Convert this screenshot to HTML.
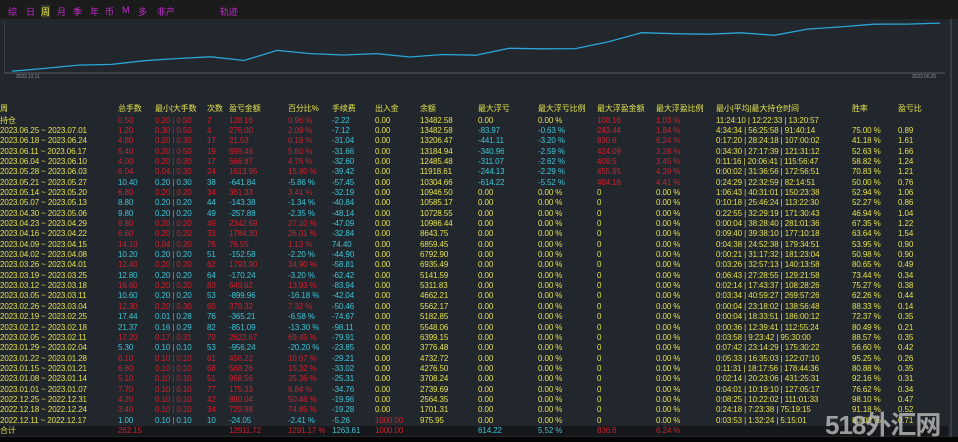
<!DOCTYPE html>
<html><head><meta charset="utf-8">
<style>
*{margin:0;padding:0;box-sizing:border-box}
body{width:958px;height:442px;background:#22262d;overflow:hidden;position:relative;font-family:"Liberation Sans","Noto Sans CJK SC",sans-serif;font-size:8px;letter-spacing:-0.1px;color:#e2e24a}
#topbar{position:absolute;left:0;top:0;width:958px;height:19px;background:#1b1b1c}
.menu{position:absolute;top:5px;color:#c02cc8;font-size:9px}
#chart{position:absolute;left:0;top:19px;width:948px;height:62px}
.row{position:absolute;left:0;width:948px;height:10.35px;line-height:10.35px;white-space:nowrap}
.row span{position:absolute;top:0}
.r{color:#d0202c}.c{color:#3cc6d6}.y{color:#e2e24a}
#total{background:#15171a}
#rb{position:absolute;left:950px;top:19px;width:2px;height:418px;background:#3a3f47}
#bottom{position:absolute;left:0;top:437px;width:958px;height:5px;background:#050505}
.wm{position:absolute;left:825px;top:405px;font-size:26px;font-weight:bold;color:rgba(200,200,200,0.75);letter-spacing:-1px}
</style></head><body>
<div id="topbar">
<span class="menu" style="left:8px">综</span>
<span class="menu" style="left:26px">日</span>
<span class="menu" style="left:41px;color:#e2e24a;background:#3a3a2a">周</span>
<span class="menu" style="left:57px">月</span>
<span class="menu" style="left:73px">季</span>
<span class="menu" style="left:90px">年</span>
<span class="menu" style="left:105px">币</span>
<span class="menu" style="left:122px">M</span>
<span class="menu" style="left:138px">多</span>
<span class="menu" style="left:157px">非产</span>
<span class="menu" style="left:220px">轨迹</span>
</div>
<svg id="chart" width="948" height="62">
<line x1="4" y1="54" x2="945" y2="54" stroke="#5a5f66" stroke-width="1"/>
<line x1="4.5" y1="2" x2="4.5" y2="54" stroke="#3a3f47" stroke-width="1"/>
<text x="16" y="59" font-size="5" fill="#8a8f96" font-family="Liberation Sans">2022.12.11</text>
<text x="912" y="59" font-size="5" fill="#8a8f96" font-family="Liberation Sans">2023.06.25</text>
<polyline id="eq" fill="none" stroke="#2aa6d8" stroke-width="1.3"/>
</svg>
<div id="rb"></div>
<div id="table"></div>
<div id="bottom"></div>
<div class="wm">518外汇网</div>
<script>
// chart data: weekly closing balance, oldest first
const weeks = ["12.11","12.18","12.25","01.01","01.08","01.15","01.22","01.29","02.05","02.12","02.19","02.26","03.05","03.12","03.19","03.26","04.02","04.09","04.16","04.23","04.30","05.07","05.14","05.21","05.28","06.04","06.11","06.18","06.25"];
const balances = [975.95,1701.31,2564.35,2739.69,3708.24,4276.50,4732.72,3776.48,6399.15,5548.06,5182.85,5562.17,4662.21,5311.83,5141.59,6935.49,6792.90,6859.45,8643.75,10986.44,10728.55,10585.17,10946.50,10304.66,11918.61,12485.48,13184.94,13206.47,13482.58];
const xScale = i => 12 + i * (928 / (weeks.length - 1));
const yScale = v => 54 - (v / 13500) * 52 + 2;
const pl = document.getElementById('eq');
pl.setAttribute('points', balances.map((v,i)=>xScale(i).toFixed(1)+','+yScale(v).toFixed(1)).join(' '));



const colX = [0,118,155,207,229,288,332,375,420,478,538,597,656,716,852,898];
const headers = ["周","总手数","最小|大手数","次数","盈亏金额","百分比%","手续费","出入金","余额","最大浮亏","最大浮亏比例","最大浮盈金额","最大浮盈比例","最小|平均|最大持仓时间","胜率","盈亏比"];
const rows = [
["持仓","r","0.50","0.20 | 0.50","2","128.16","0.96 %","-2.22","0.00","13482.58","0.00","0.00 %","108.16","1.03 %","11:24:10 | 12:22:33 | 13:20:57","",""],
["2023.06.25 ~ 2023.07.01","r","1.20","0.30 | 0.50","4","276.00","2.09 %","-7.12","0.00","13482.58","-83.97","-0.63 %","243.44","1.84 %","4:34:34 | 56:25:58 | 91:40:14","75.00 %","0.89"],
["2023.06.18 ~ 2023.06.24","r","4.80","0.20 | 0.30","17","21.53","0.16 %","-31.04","0.00","13206.47","-441.11","-3.20 %","830.6","6.24 %","0:17:20 | 28:24:18 | 107:00:02","41.18 %","1.61"],
["2023.06.11 ~ 2023.06.17","r","5.40","0.20 | 0.50","19","699.46","5.60 %","-31.66","0.00","13184.94","-340.96","-2.59 %","424.09","3.28 %","0:34:30 | 27:17:39 | 121:31:12","52.63 %","1.66"],
["2023.06.04 ~ 2023.06.10","r","4.00","0.20 | 0.30","17","566.87","4.76 %","-32.60","0.00","12485.48","-311.07","-2.62 %","409.5","3.45 %","0:11:16 | 20:06:41 | 115:56:47","58.82 %","1.24"],
["2023.05.28 ~ 2023.06.03","r","6.04","0.04 | 0.30","24","1613.95","15.80 %","-39.42","0.00","11918.61","-244.13","-2.29 %","455.95","4.29 %","0:00:02 | 31:36:56 | 172:56:51","70.83 %","1.21"],
["2023.05.21 ~ 2023.05.27","c","10.40","0.20 | 0.30","38","-641.84","-5.86 %","-57.45","0.00","10304.66","-614.22","-5.52 %","484.16","4.41 %","0:24:29 | 22:32:59 | 82:14:51","50.00 %","0.76"],
["2023.05.14 ~ 2023.05.20","r","6.80","0.20 | 0.20","34","361.33","3.41 %","-32.19","0.00","10946.50","0.00","0.00 %","0","0.00 %","1:06:43 | 40:31:01 | 150:23:38","52.94 %","1.06"],
["2023.05.07 ~ 2023.05.13","c","8.80","0.20 | 0.20","44","-143.38","-1.34 %","-40.84","0.00","10585.17","0.00","0.00 %","0","0.00 %","0:10:18 | 25:46:24 | 113:22:30","52.27 %","0.86"],
["2023.04.30 ~ 2023.05.06","c","9.80","0.20 | 0.20","49","-257.88","-2.35 %","-48.14","0.00","10728.55","0.00","0.00 %","0","0.00 %","0:22:55 | 32:29:19 | 171:30:43","46.94 %","1.04"],
["2023.04.23 ~ 2023.04.29","r","9.80","0.20 | 0.20","49","2342.69","27.10 %","-47.09","0.00","10986.44","0.00","0.00 %","0","0.00 %","0:00:04 | 38:28:40 | 281:01:36","67.35 %","1.22"],
["2023.04.16 ~ 2023.04.22","r","6.60","0.20 | 0.20","33","1784.30","26.01 %","-32.84","0.00","8643.75","0.00","0.00 %","0","0.00 %","0:09:40 | 39:38:10 | 177:10:18","63.64 %","1.54"],
["2023.04.09 ~ 2023.04.15","r","14.10","0.04 | 0.20","76","76.55","1.13 %","74.40","0.00","6859.45","0.00","0.00 %","0","0.00 %","0:04:38 | 24:52:38 | 179:34:51","53.95 %","0.90"],
["2023.04.02 ~ 2023.04.08","c","10.20","0.20 | 0.20","51","-152.58","-2.20 %","-44.90","0.00","6792.90","0.00","0.00 %","0","0.00 %","0:00:21 | 31:17:32 | 181:23:04","50.98 %","0.90"],
["2023.03.26 ~ 2023.04.01","r","12.40","0.20 | 0.20","62","1793.90","34.90 %","-58.81","0.00","6935.49","0.00","0.00 %","0","0.00 %","0:03:26 | 32:57:13 | 140:13:58","80.65 %","0.49"],
["2023.03.19 ~ 2023.03.25","c","12.80","0.20 | 0.20","64","-170.24","-3.20 %","-62.42","0.00","5141.59","0.00","0.00 %","0","0.00 %","0:06:43 | 27:28:55 | 129:21:58","73.44 %","0.34"],
["2023.03.12 ~ 2023.03.18","r","16.60","0.20 | 0.20","83","649.62","13.93 %","-83.94","0.00","5311.83","0.00","0.00 %","0","0.00 %","0:02:14 | 17:43:37 | 108:28:26","75.27 %","0.38"],
["2023.03.05 ~ 2023.03.11","c","10.60","0.20 | 0.20","53","-899.96","-16.18 %","-42.04","0.00","4662.21","0.00","0.00 %","0","0.00 %","0:03:34 | 40:59:27 | 269:57:26","62.26 %","0.44"],
["2023.02.26 ~ 2023.03.04","r","12.30","0.20 | 0.30","60","379.32","7.32 %","-50.46","0.00","5562.17","0.00","0.00 %","0","0.00 %","0:00:04 | 23:18:02 | 138:56:48","88.33 %","0.14"],
["2023.02.19 ~ 2023.02.25","c","17.44","0.01 | 0.28","76","-365.21","-6.58 %","-74.67","0.00","5182.85","0.00","0.00 %","0","0.00 %","0:00:04 | 18:33:51 | 186:00:12","72.37 %","0.35"],
["2023.02.12 ~ 2023.02.18","c","21.37","0.16 | 0.29","82","-851.09","-13.30 %","-98.11","0.00","5548.06","0.00","0.00 %","0","0.00 %","0:00:36 | 12:39:41 | 112:55:24","80.49 %","0.21"],
["2023.02.05 ~ 2023.02.11","r","17.20","0.17 | 0.31","70","2622.67","69.45 %","-79.91","0.00","6399.15","0.00","0.00 %","0","0.00 %","0:03:58 | 9:23:42 | 95:30:00","88.57 %","0.35"],
["2023.01.29 ~ 2023.02.04","c","5.30","0.10 | 0.10","53","-956.24","-20.20 %","-23.85","0.00","3776.48","0.00","0.00 %","0","0.00 %","0:07:42 | 23:14:29 | 175:30:22","56.60 %","0.42"],
["2023.01.22 ~ 2023.01.28","r","6.10","0.10 | 0.10","61","456.22","10.67 %","-29.21","0.00","4732.72","0.00","0.00 %","0","0.00 %","0:05:33 | 16:35:03 | 122:07:10","95.25 %","0.26"],
["2023.01.15 ~ 2023.01.21","r","6.80","0.10 | 0.10","68","568.26","15.32 %","-33.02","0.00","4276.50","0.00","0.00 %","0","0.00 %","0:11:31 | 18:17:56 | 178:44:36","80.88 %","0.35"],
["2023.01.08 ~ 2023.01.14","r","5.10","0.10 | 0.10","51","968.56","35.36 %","-25.31","0.00","3708.24","0.00","0.00 %","0","0.00 %","0:02:14 | 20:23:06 | 431:25:31","92.16 %","0.31"],
["2023.01.01 ~ 2023.01.07","r","7.70","0.10 | 0.10","77","175.33","6.84 %","-34.76","0.00","2739.69","0.00","0.00 %","0","0.00 %","0:04:01 | 10:19:10 | 127:05:17","76.62 %","0.34"],
["2022.12.25 ~ 2022.12.31","r","4.20","0.10 | 0.10","42","880.04","50.46 %","-19.96","0.00","2564.35","0.00","0.00 %","0","0.00 %","0:08:25 | 10:22:02 | 111:01:33","98.10 %","0.47"],
["2022.12.18 ~ 2022.12.24","r","3.40","0.10 | 0.10","34","729.98","74.85 %","-19.28","0.00","1701.31","0.00","0.00 %","0","0.00 %","0:24:18 | 7:23:38 | 75:19:15","91.18 %","0.52"],
["2022.12.11 ~ 2022.12.17","c","1.00","0.10 | 0.10","10","-24.05","-2.41 %","-5.26","1000.00","975.95","0.00","0.00 %","0","0.00 %","0:03:53 | 1:32:24 | 5:15:01","80.00 %","0.71"]
];
const total = ["合计","262.15","","","12911.72","1291.17 %","1263.61","1000.00","","614.22","5.52 %","836.6","6.24 %","","",""];
const totalCls = ["y","r","r","r","r","r","c","r","y","c","c","r","r","y","y","y"];

const table = document.getElementById('table');
const rowH = 10.35;
function mkRow(top, name){
  const d=document.createElement('div');
  d.className='row'; d.style.top=top+'px';
  
  
  table.appendChild(d); return d;
}
function mkCell(row, x, text, cls, name){
  const s=document.createElement('span');
  s.style.left=x+'px'; s.className=cls; s.textContent=text;
  
  
  row.appendChild(s);
}
const hr = mkRow(104, 'header-row');
headers.forEach((h,i)=>mkCell(hr, colX[i], h, 'y', 'header-cell'));
rows.forEach((r,ri)=>{
  const d = mkRow(115.5 + ri*rowH, 'week-row');
  const k = r[1]; const vals=[r[0]].concat(r.slice(2));
  vals.forEach((v,ci)=>{
    let cls='y';
    if(ci>=1&&ci<=5) cls=k;
    else if(ci===6) cls='c';
    else if(ci===7) cls=(v==='0.00')?'y':'r';
    else if(ci===9||ci===10) cls=(v==='0.00'||v==='0.00 %')?'y':'c';
    else if(ci===11||ci===12) cls=(v==='0'||v==='0.00 %')?'y':'r';
    mkCell(d, colX[ci], v, cls, 'table-cell');
  });
});
const tr = mkRow(115.5 + rows.length*rowH, 'total-row');
tr.id='total';
total.forEach((v,ci)=>mkCell(tr, colX[ci], v, totalCls[ci], 'total-cell'));
</script>
</body></html>
